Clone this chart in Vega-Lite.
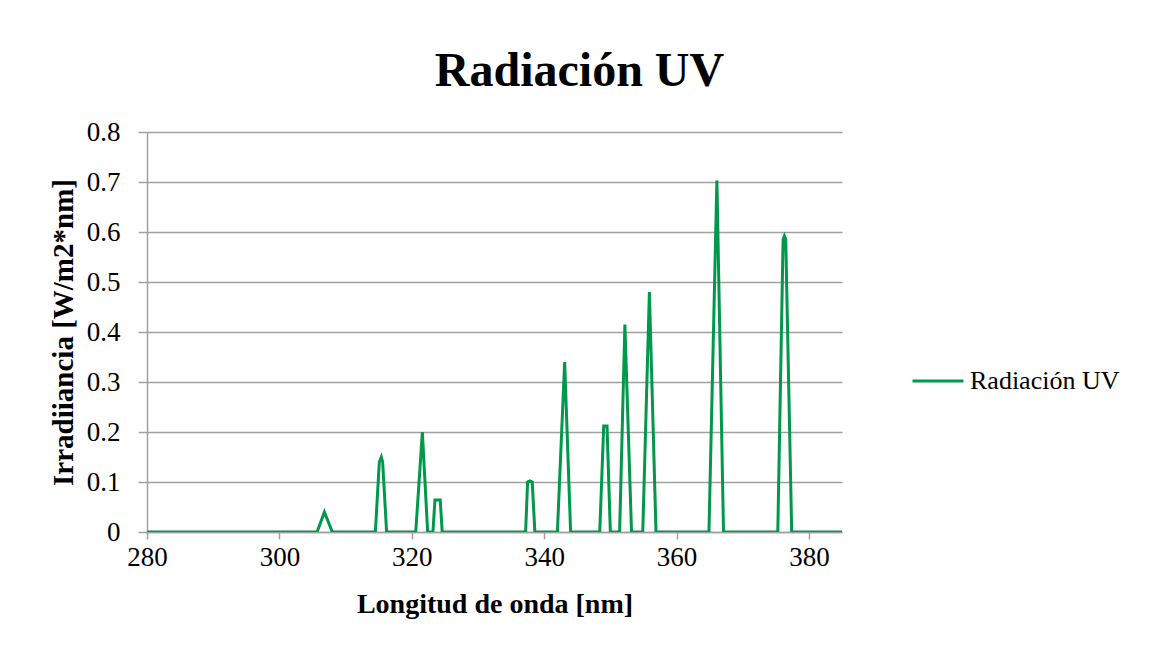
{
  "$schema": "https://vega.github.io/schema/vega-lite/v6.json",
  "width": 695,
  "height": 400,
  "autosize": "none",
  "padding": {"left": 147, "top": 132, "right": 308, "bottom": 124},
  "background": "white",
  "title": {
    "text": "Radiación UV",
    "font": "Liberation Serif",
    "fontSize": 48,
    "fontWeight": "bold",
    "color": "black",
    "anchor": "middle",
    "dx": 85,
    "dy": 60,
    "baseline": "alphabetic",
    "offset": 44
  },
  "data": {
    "values": [
      {"nm": 280, "v": 0, "s": "Radiación UV"},
      {"nm": 305.7, "v": 0, "s": "Radiación UV"},
      {"nm": 306.8, "v": 0.04, "s": "Radiación UV"},
      {"nm": 308.0, "v": 0, "s": "Radiación UV"},
      {"nm": 314.5, "v": 0, "s": "Radiación UV"},
      {"nm": 315.1, "v": 0.14, "s": "Radiación UV"},
      {"nm": 315.4, "v": 0.15, "s": "Radiación UV"},
      {"nm": 315.6, "v": 0.14, "s": "Radiación UV"},
      {"nm": 316.2, "v": 0, "s": "Radiación UV"},
      {"nm": 320.6, "v": 0, "s": "Radiación UV"},
      {"nm": 321.6, "v": 0.2, "s": "Radiación UV"},
      {"nm": 322.4, "v": 0, "s": "Radiación UV"},
      {"nm": 323.2, "v": 0, "s": "Radiación UV"},
      {"nm": 323.5, "v": 0.064, "s": "Radiación UV"},
      {"nm": 324.3, "v": 0.064, "s": "Radiación UV"},
      {"nm": 324.6, "v": 0, "s": "Radiación UV"},
      {"nm": 337.2, "v": 0, "s": "Radiación UV"},
      {"nm": 337.5, "v": 0.1, "s": "Radiación UV"},
      {"nm": 337.85, "v": 0.102, "s": "Radiación UV"},
      {"nm": 338.2, "v": 0.1, "s": "Radiación UV"},
      {"nm": 338.6, "v": 0, "s": "Radiación UV"},
      {"nm": 342.0, "v": 0, "s": "Radiación UV"},
      {"nm": 343.1, "v": 0.34, "s": "Radiación UV"},
      {"nm": 344.0, "v": 0, "s": "Radiación UV"},
      {"nm": 348.4, "v": 0, "s": "Radiación UV"},
      {"nm": 349.0, "v": 0.212, "s": "Radiación UV"},
      {"nm": 349.5, "v": 0.212, "s": "Radiación UV"},
      {"nm": 350.0, "v": 0, "s": "Radiación UV"},
      {"nm": 351.4, "v": 0, "s": "Radiación UV"},
      {"nm": 352.2, "v": 0.415, "s": "Radiación UV"},
      {"nm": 353.2, "v": 0, "s": "Radiación UV"},
      {"nm": 354.9, "v": 0, "s": "Radiación UV"},
      {"nm": 355.9, "v": 0.48, "s": "Radiación UV"},
      {"nm": 356.9, "v": 0, "s": "Radiación UV"},
      {"nm": 364.9, "v": 0, "s": "Radiación UV"},
      {"nm": 366.1, "v": 0.703, "s": "Radiación UV"},
      {"nm": 367.1, "v": 0, "s": "Radiación UV"},
      {"nm": 375.3, "v": 0, "s": "Radiación UV"},
      {"nm": 376.1, "v": 0.585, "s": "Radiación UV"},
      {"nm": 376.3, "v": 0.592, "s": "Radiación UV"},
      {"nm": 376.5, "v": 0.585, "s": "Radiación UV"},
      {"nm": 377.4, "v": 0, "s": "Radiación UV"},
      {"nm": 385, "v": 0, "s": "Radiación UV"}
    ]
  },
  "mark": {"type": "line", "strokeWidth": 3, "clip": true},
  "encoding": {
    "x": {
      "field": "nm",
      "type": "quantitative",
      "scale": {"domain": [280, 385], "nice": false, "zero": false},
      "axis": {
        "title": "Longitud de onda [nm]",
        "values": [280, 300, 320, 340, 360, 380],
        "grid": false,
        "labelFlush": false,
        "labelOverlap": false,
        "domainColor": "#A0A0A0",
        "domainWidth": 1.5,
        "tickColor": "#A0A0A0",
        "tickWidth": 1.5,
        "tickSize": 7,
        "labelPadding": 5,
        "labelFont": "Liberation Serif",
        "labelFontSize": 27,
        "labelColor": "black",
        "titleFont": "Liberation Serif",
        "titleFontSize": 28,
        "titleFontWeight": "bold",
        "titleColor": "black",
        "titlePadding": 20
      }
    },
    "y": {
      "field": "v",
      "type": "quantitative",
      "scale": {"domain": [0, 0.8], "nice": false},
      "axis": {
        "title": "Irradiiancia [W/m2*nm]",
        "values": [0, 0.1, 0.2, 0.3, 0.4, 0.5, 0.6, 0.7, 0.8],
        "format": "~g",
        "grid": true,
        "labelFlush": false,
        "labelOverlap": false,
        "gridColor": "#A0A0A0",
        "gridWidth": 1.5,
        "domainColor": "#A0A0A0",
        "domainWidth": 1.5,
        "tickColor": "#A0A0A0",
        "tickWidth": 1.5,
        "tickSize": 9,
        "labelPadding": 18,
        "labelFont": "Liberation Serif",
        "labelFontSize": 27,
        "labelColor": "black",
        "titleFont": "Liberation Serif",
        "titleFontSize": 29,
        "titleFontWeight": "bold",
        "titleColor": "black",
        "titlePadding": 8
      }
    },
    "color": {
      "field": "s",
      "type": "nominal",
      "scale": {"range": ["#00984A"]},
      "legend": {
        "title": null,
        "orient": "none",
        "legendX": 764,
        "legendY": 222,
        "symbolType": "stroke",
        "symbolSize": 2601,
        "symbolStrokeWidth": 3,
        "labelFont": "Liberation Serif",
        "labelFontSize": 26,
        "labelColor": "black",
        "labelOffset": 5
      }
    }
  },
  "config": {"view": {"stroke": null}}
}
